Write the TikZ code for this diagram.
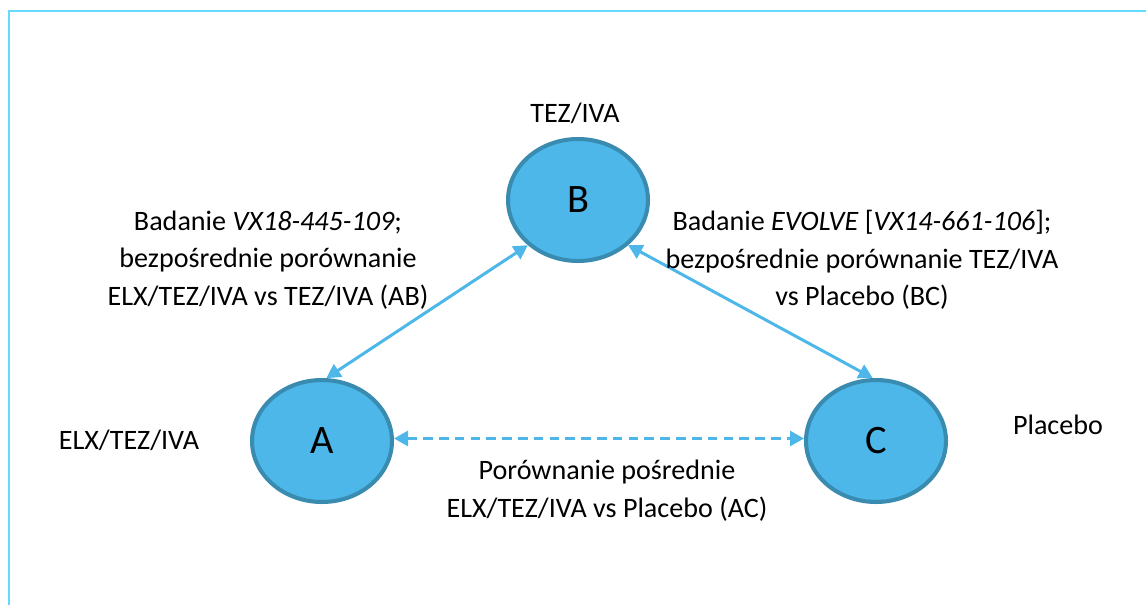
\documentclass[tikz,border=0pt]{standalone}
\usepackage{fontspec}
\setmainfont{Carlito}
\usetikzlibrary{positioning,arrows.meta,calc,shapes.geometric}

\definecolor{nodefill}{RGB}{76,183,232}
\definecolor{nodeedge}{RGB}{58,139,176}
\definecolor{linkblue}{RGB}{76,183,232}
\definecolor{framecyan}{RGB}{102,217,255}

\begin{document}
\begin{tikzpicture}[
    x=0.02cm, y=-0.02cm,
    font=\fontsize{16}{21.5}\selectfont,
    arm/.style={ellipse, fill=nodefill, draw=nodeedge, line width=2.3pt,
                minimum width=2.8cm, minimum height=2.44cm, inner sep=0pt,
                font=\fontsize{23}{26}\selectfont},
    link/.style={linkblue, line width=1.7pt,
                 {Triangle[length=8pt,width=8.5pt]}-{Triangle[length=8pt,width=8.5pt]}},
    note/.style={align=center, text=black},
  ]
  \useasboundingbox (0,0) rectangle (1146,605);
  % frame (only left and top edges visible)
  \draw[framecyan, line width=1.7pt] (9,605) -- (9,11) -- (1146,11);

  % treatments
  \node[arm] (B) at (578,200) {B};
  \node[arm] (A) at (322,441) {A};
  \node[arm] (C) at (876,441) {C};
  \node[note] (lb) at (575,113) {TEZ/IVA};
  \node[note] (la) at (129,440) {ELX/TEZ/IVA};
  \node[note] (lc) at (1058,425) {Placebo};

  % direct and indirect comparisons
  \draw[link] (A.86) -- (B.222);
  \draw[link] (B.318) -- (C.93);
  \draw[link, dash pattern=on 5.5pt off 3.5pt] (A.2) -- (C.178);

  \node[note] (nab) at (268,260)
    {Badanie \textit{VX18-445-109};\\ bezpośrednie porównanie\\ ELX/TEZ/IVA vs TEZ/IVA (AB)};
  \node[note] (nbc) at (862,260)
    {Badanie \textit{EVOLVE} [\textit{VX14-661-106}];\\ bezpośrednie porównanie TEZ/IVA\\ vs Placebo (BC)};
  \node[note] (nac) at (607,491)
    {Porównanie pośrednie\\ ELX/TEZ/IVA vs Placebo (AC)};
\end{tikzpicture}
\end{document}
